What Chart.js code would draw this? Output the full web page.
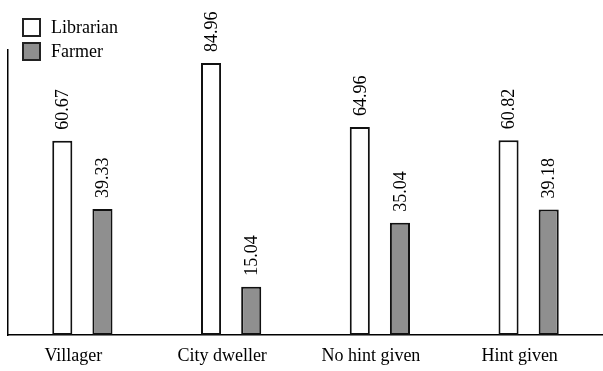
<!DOCTYPE html>
<html>
<head>
<meta charset="utf-8">
<script src="https://cdn.jsdelivr.net/npm/chart.js@4.4.1/dist/chart.umd.min.js"></script>
<style>
  body { margin: 0; background: #fff; }
  #wrap { position: relative; width: 603px; height: 371px; }
  #legend { position: absolute; left: 22px; top: 15px; font: 18px 'Liberation Serif', serif; color: #000; }
  #legend div { display: flex; align-items: center; height: 24px; }
  #legend span.box { display: inline-block; width: 15px; height: 15px; border: 2px solid #222; margin-right: 10px; box-sizing: content-box; }
</style>
</head>
<body>
<div id="wrap">
  <canvas id="chart"></canvas>
  <div id="legend">
    <div><span class="box" style="background:#fff"></span>Librarian</div>
    <div><span class="box" style="background:#8f8f8f"></span>Farmer</div>
  </div>
</div>
<script>
const categories = ['Villager', 'City dweller', 'No hint given', 'Hint given'];
const librarian = [60.67, 84.96, 64.96, 60.82];
const farmer = [39.33, 15.04, 35.04, 39.18];

// rotated value labels above each bar
const valueLabels = {
    id: 'valueLabels',
    afterDatasetsDraw(chart) {
        const ctx = chart.ctx;
        chart.data.datasets.forEach((ds, i) => {
            chart.getDatasetMeta(i).data.forEach((bar, j) => {
                ctx.save();
                ctx.translate(bar.x + 1, bar.y - 11);
                ctx.rotate(-Math.PI / 2);
                ctx.font = "18px 'Liberation Serif', 'Times New Roman', serif";
                ctx.fillStyle = '#000';
                ctx.textAlign = 'left';
                ctx.textBaseline = 'middle';
                ctx.fillText(ds.data[j].toFixed(2), 0, 0);
                ctx.restore();
            });
        });
    }
};

const ctx = document.getElementById('chart').getContext('2d');
new Chart(ctx, {
    type: 'bar',
    data: {
        labels: categories,
        datasets: [
            {
                label: 'Librarian',
                data: librarian,
                backgroundColor: '#ffffff',
                borderColor: '#111',
                borderWidth: 2,
                borderSkipped: false
            },
            {
                label: 'Farmer',
                data: farmer,
                backgroundColor: '#8f8f8f',
                borderColor: '#111',
                borderWidth: 2,
                borderSkipped: false
            }
        ]
    },
    options: {
        responsive: true,
        maintainAspectRatio: false,
        animation: false,
        layout: { padding: { left: 8, top: 50, right: 0, bottom: 0 } },
        datasets: {
            bar: { categoryPercentage: 0.54, barPercentage: 0.5 }
        },
        scales: {
            x: {
                grid: { display: false, drawTicks: false },
                border: { display: true, color: '#000', width: 1.5 },
                ticks: {
                    color: '#000',
                    padding: 10,
                    labelOffset: -9,
                    font: { family: "'Liberation Serif', serif", size: 18 }
                },
                afterFit: s => { s.height = 36; }
            },
            y: {
                min: 0,
                max: 89,
                grid: { display: false, drawTicks: false },
                border: { display: true, color: '#000', width: 1.5 },
                ticks: { display: false },
                afterFit: s => { s.width = 0; }
            }
        },
        plugins: {
            legend: { display: false },
            tooltip: { enabled: false }
        }
    },
    plugins: [valueLabels]
});
</script>
</body>
</html>
